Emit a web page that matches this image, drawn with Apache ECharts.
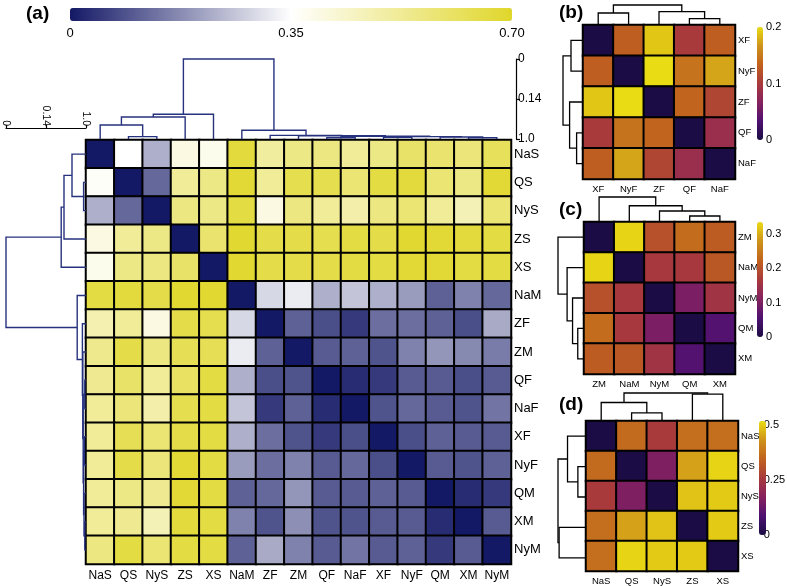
<!DOCTYPE html>
<html><head><meta charset="utf-8">
<script src="https://cdn.jsdelivr.net/npm/echarts@6/dist/echarts.min.js"></script>
<style>html,body{margin:0;padding:0;background:#fff}#c{width:787px;height:586px}</style>
</head><body><div id="c"></div>
<script>
// ---------- DATA ----------
const mainOrder = ['NaS','QS','NyS','ZS','XS','NaM','ZF','ZM','QF','NaF','XF','NyF','QM','XM','NyM'];
const mainValues = [
 [0,0.35,0.23,0.40,0.38,0.67,0.51,0.55,0.56,0.52,0.55,0.60,0.59,0.57,0.62],
 [0.36,0,0.12,0.52,0.55,0.68,0.52,0.64,0.64,0.58,0.66,0.67,0.58,0.55,0.68],
 [0.23,0.12,0,0.56,0.55,0.66,0.40,0.56,0.52,0.49,0.56,0.58,0.52,0.47,0.58],
 [0.40,0.52,0.55,0,0.59,0.69,0.65,0.65,0.64,0.66,0.65,0.69,0.68,0.67,0.66],
 [0.38,0.55,0.56,0.60,0,0.69,0.65,0.65,0.65,0.66,0.66,0.68,0.68,0.66,0.66],
 [0.66,0.67,0.65,0.69,0.69,0,0.29,0.32,0.23,0.26,0.23,0.20,0.11,0.16,0.12],
 [0.48,0.52,0.40,0.65,0.64,0.29,0,0.11,0.08,0.05,0.13,0.13,0.11,0.08,0.22],
 [0.54,0.65,0.56,0.63,0.63,0.32,0.11,0,0.10,0.11,0.09,0.16,0.19,0.17,0.15],
 [0.53,0.60,0.52,0.61,0.66,0.23,0.08,0.09,0,0.03,0.05,0.10,0.10,0.08,0.10],
 [0.52,0.57,0.49,0.64,0.66,0.26,0.05,0.11,0.03,0,0.09,0.12,0.10,0.09,0.14],
 [0.52,0.63,0.58,0.65,0.66,0.23,0.13,0.09,0.05,0.08,0,0.08,0.11,0.10,0.10],
 [0.52,0.65,0.57,0.68,0.66,0.20,0.13,0.16,0.10,0.12,0.08,0,0.10,0.09,0.11],
 [0.52,0.55,0.53,0.68,0.66,0.11,0.12,0.19,0.10,0.10,0.11,0.10,0,0.03,0.05],
 [0.52,0.53,0.47,0.67,0.66,0.16,0.09,0.18,0.09,0.09,0.10,0.10,0.03,0,0.10],
 [0.56,0.66,0.58,0.66,0.66,0.11,0.22,0.16,0.10,0.14,0.10,0.11,0.05,0.10,0]
];
// linkage: [childA, childB, height]; 'nK' refers to the K-th merge
const mainLinks = [
 ['QS','NyS',0.03],['NaS','n0',0.175],['n1','ZS',0.275],['n2','XS',0.31],
 ['QF','NaF',0.015],['XF','NyF',0.02],['XM','NyM',0.015],['QM','n6',0.025],
 ['n5','n7',0.03],['n4','n8',0.035],['ZM','n9',0.04],['ZF','n10',0.045],
 ['NaM','n11',0.11],['n3','n12',1.0]
];
const mainTicks = ['0','0.35','0.70'];
const dendroTicks = ['1.0','0.14','0'];

const bOrder = ['XF','NyF','ZF','QF','NaF'];
const bValues = [
 [0,0.13,0.19,0.10,0.13],
 [0.13,0,0.2,0.145,0.175],
 [0.19,0.2,0,0.135,0.11],
 [0.10,0.145,0.135,0,0.085],
 [0.13,0.175,0.11,0.085,0]
];
const bLinks = [['XF','NyF',0.6],['QF','NaF',0.32],['ZF','n1',0.67],['n0','n2',1]];
const bTicks = ['0','0.1','0.2'];

const cOrder = ['ZM','NaM','NyM','QM','XM'];
const cValues = [
 [0,0.33,0.2,0.235,0.215],
 [0.33,0,0.165,0.165,0.21],
 [0.2,0.165,0,0.1,0.155],
 [0.235,0.165,0.1,0,0.06],
 [0.215,0.21,0.155,0.06,0]
];
const cLinks = [['QM','XM',0.24],['NyM','n0',0.44],['NaM','n1',0.65],['ZM','n2',1]];
const cTicks = ['0','0.1','0.2','0.3'];

const dOrder = ['NaS','QS','NyS','ZS','XS'];
const dValues = [
 [0,0.36,0.26,0.37,0.37],
 [0.36,0,0.16,0.45,0.51],
 [0.26,0.16,0,0.49,0.5],
 [0.37,0.45,0.49,0,0.5],
 [0.37,0.51,0.5,0.5,0]
];
const dLinks = [['QS','NyS',0.29],['NaS','n0',0.66],['ZS','XS',0.96],['n1','n2',1]];
const dTicks = ['0','0.25','0.5'];

// ---------- HELPERS ----------
const FONT = 'Liberation Sans, Arial, sans-serif';
function heatData(vals){ const out=[]; vals.forEach((row,i)=>row.forEach((v,j)=>out.push([j,i,v]))); return out; }
function dendro(order, links){
  const pos={}, h={}; order.forEach((n,i)=>{pos[n]=i;h[n]=0;});
  const segs=[];
  links.forEach((l,k)=>{ const a=l[0],b=l[1];
    segs.push([pos[a],pos[b],h[a],h[b],l[2]]);
    pos['n'+k]=(pos[a]+pos[b])/2; h['n'+k]=l[2]; });
  return segs;
}
function topRender(color,w){ return function(p,api){
  const x1=api.value(0),x2=api.value(1),h1=api.value(2),h2=api.value(3),hn=api.value(4);
  return {type:'polyline',shape:{points:[api.coord([x1,h1]),api.coord([x1,hn]),api.coord([x2,hn]),api.coord([x2,h2])]},
    style:{stroke:color,lineWidth:w,fill:'none'}};
};}
function leftRender(color,w){ return function(p,api){
  const x1=api.value(0),x2=api.value(1),h1=api.value(2),h2=api.value(3),hn=api.value(4);
  return {type:'polyline',shape:{points:[api.coord([h1,x1]),api.coord([hn,x1]),api.coord([hn,x2]),api.coord([h2,x2])]},
    style:{stroke:color,lineWidth:w,fill:'none'}};
};}
const infernoCols = ['#1b0c45','#4f1170','#87215f','#a83a3c','#c0621e','#cf931a','#e9dc14'];

const grids=[], xAxes=[], yAxes=[], series=[], visualMaps=[];
function hidden(gi, extra){ return Object.assign({gridIndex:gi, type:'value', show:false}, extra||{}); }

// main panel
grids.push({left:86, top:140, width:425, height:424}); //0
grids.push({left:86, top:59, width:425, height:80});   //1
grids.push({left:6, top:140, width:80, height:424});   //2
xAxes.push({gridIndex:0,type:'category',data:mainOrder,position:'bottom',axisLine:{show:false},axisTick:{show:false},
  axisLabel:{fontSize:12,color:'#000',margin:6,fontFamily:FONT,interval:0}});
yAxes.push({gridIndex:0,type:'category',data:mainOrder,inverse:true,position:'right',axisLine:{show:false},axisTick:{show:false},
  axisLabel:{fontSize:13,color:'#000',margin:3,fontFamily:FONT,interval:0}});
xAxes.push(hidden(1,{min:-0.5,max:mainOrder.length-0.5}));
yAxes.push({gridIndex:1,type:'value',min:0,max:1,interval:0.5,position:'right',offset:5,
  axisLine:{show:true,onZero:false,lineStyle:{color:'#000',width:1.2}},axisTick:{show:true,length:4,lineStyle:{color:'#000',width:1.2}},
  splitLine:{show:false},axisLabel:{fontSize:12,color:'#000',margin:2,fontFamily:FONT,formatter:v=>dendroTicks[Math.round(v*2)]}});
xAxes.push({gridIndex:2,type:'value',min:0,max:1,interval:0.5,inverse:true,position:'top',offset:12,
  axisLine:{show:true,onZero:false,lineStyle:{color:'#000',width:1.2}},axisTick:{show:true,length:3,lineStyle:{color:'#000',width:1.2}},
  splitLine:{show:false},axisLabel:{fontSize:10.5,color:'#000',margin:2,rotate:90,fontFamily:FONT,formatter:v=>dendroTicks[Math.round(v*2)]}});
yAxes.push(hidden(2,{min:-0.5,max:mainOrder.length-0.5,inverse:true}));
series.push({type:'heatmap',xAxisIndex:0,yAxisIndex:0,data:heatData(mainValues),
  itemStyle:{borderColor:'#000',borderWidth:2},emphasis:{disabled:true}});
const mainSegs=dendro(mainOrder,mainLinks);
series.push({type:'custom',xAxisIndex:1,yAxisIndex:1,data:mainSegs,renderItem:topRender('#27327f',1.4),clip:false,silent:true});
series.push({type:'custom',xAxisIndex:2,yAxisIndex:2,data:mainSegs,renderItem:leftRender('#27327f',1.4),clip:false,silent:true});
visualMaps.push({type:'continuous',min:0,max:0.7,seriesIndex:0,orient:'horizontal',left:70,top:8,itemWidth:13,itemHeight:442,
  calculable:false,padding:0,inRange:{color:['#141966','#ffffff','#e0d72b']},hoverLink:false});

// small panels
function small(order, vals, links, box, dist, cbar, ticks, interval){
  const gi=grids.length;
  grids.push({left:box[0],top:box[1],width:box[2],height:box[3]});
  grids.push({left:box[0],top:box[1]-dist[0],width:box[2],height:dist[0]});
  grids.push({left:box[0]-dist[1],top:box[1],width:dist[1],height:box[3]});
  xAxes.push({gridIndex:gi,type:'category',data:order,position:'bottom',axisLine:{show:false},axisTick:{show:false},
    axisLabel:{fontSize:9.5,color:'#000',margin:5,fontFamily:FONT,interval:0}});
  yAxes.push({gridIndex:gi,type:'category',data:order,inverse:true,position:'right',axisLine:{show:false},axisTick:{show:false},
    axisLabel:{fontSize:9.5,color:'#000',margin:3,fontFamily:FONT,interval:0}});
  xAxes.push(hidden(gi+1,{min:-0.5,max:order.length-0.5}));
  yAxes.push(hidden(gi+1,{min:0,max:1}));
  xAxes.push(hidden(gi+2,{min:0,max:1,inverse:true}));
  yAxes.push(hidden(gi+2,{min:-0.5,max:order.length-0.5,inverse:true}));
  const si=series.length;
  series.push({type:'heatmap',xAxisIndex:gi,yAxisIndex:gi,data:heatData(vals),
    itemStyle:{borderColor:'#000',borderWidth:2},emphasis:{disabled:true}});
  const segs=dendro(order,links);
  series.push({type:'custom',xAxisIndex:gi+1,yAxisIndex:gi+1,data:segs,renderItem:topRender('#000',1.3),clip:false,silent:true});
  series.push({type:'custom',xAxisIndex:gi+2,yAxisIndex:gi+2,data:segs,renderItem:leftRender('#000',1.3),clip:false,silent:true});
  visualMaps.push({type:'continuous',min:0,max:cbar[4],seriesIndex:si,orient:'vertical',left:cbar[0],top:cbar[1],
    itemWidth:cbar[2],itemHeight:cbar[3],calculable:false,padding:0,inRange:{color:infernoCols},hoverLink:false});
  return {cbar, ticks, interval};
}
const cbs=[];
cbs.push(small(bOrder,bValues,bLinks,[583,25,152,154],[20,20],[757,27,6,113,0.2],bTicks,0.1));
cbs.push(small(cOrder,cValues,cLinks,[584,222,151,152],[25,26],[757,222,6,115,0.335],cTicks,0.1));
cbs.push(small(dOrder,dValues,dLinks,[586,421,152,152],[28,28],[759,421,7,114,0.52],dTicks,0.25));

// colorbar label axes
let gi=grids.length;
grids.push({left:70,top:8,width:442,height:13});
xAxes.push({gridIndex:gi,type:'value',min:0,max:0.7,interval:0.35,position:'bottom',axisLine:{show:false},axisTick:{show:false},
  splitLine:{show:false},axisLabel:{fontSize:13,color:'#000',margin:6,fontFamily:FONT,
  formatter:v=>mainTicks[Math.round(v/0.35)]}});
yAxes.push(hidden(gi));
cbs.forEach(cb=>{
  const g=grids.length; const c=cb.cbar;
  grids.push({left:c[0],top:c[1],width:c[2],height:c[3]});
  xAxes.push(hidden(g));
  yAxes.push({gridIndex:g,type:'value',min:0,max:c[4],interval:cb.interval,position:'right',axisLine:{show:false},axisTick:{show:false},
    splitLine:{show:false},axisLabel:{fontSize:11,color:'#000',margin:3,fontFamily:FONT,showMaxLabel:false,
    formatter:v=>{const i=Math.round(v/cb.interval); return Math.abs(i*cb.interval-v)<1e-6 ? (cb.ticks[i]||'') : '';}}});
});
// 0.2 max for panel b is a real tick
yAxes[yAxes.length-3].axisLabel.showMaxLabel=true;

const titleStyle={fontSize:19,fontWeight:'bold',color:'#000',fontFamily:FONT};
const chart=echarts.init(document.getElementById('c'),null,{renderer:'canvas'});
chart.setOption({
  backgroundColor:'#fff',animation:false,
  title:[
    {text:'(a)',left:26,top:4,padding:0,textStyle:titleStyle},
    {text:'(b)',left:559,top:3,padding:0,textStyle:titleStyle},
    {text:'(c)',left:559,top:200,padding:0,textStyle:titleStyle},
    {text:'(d)',left:559,top:395,padding:0,textStyle:titleStyle}
  ],
  grid:grids, xAxis:xAxes, yAxis:yAxes, visualMap:visualMaps, series:series
});
</script></body></html>
